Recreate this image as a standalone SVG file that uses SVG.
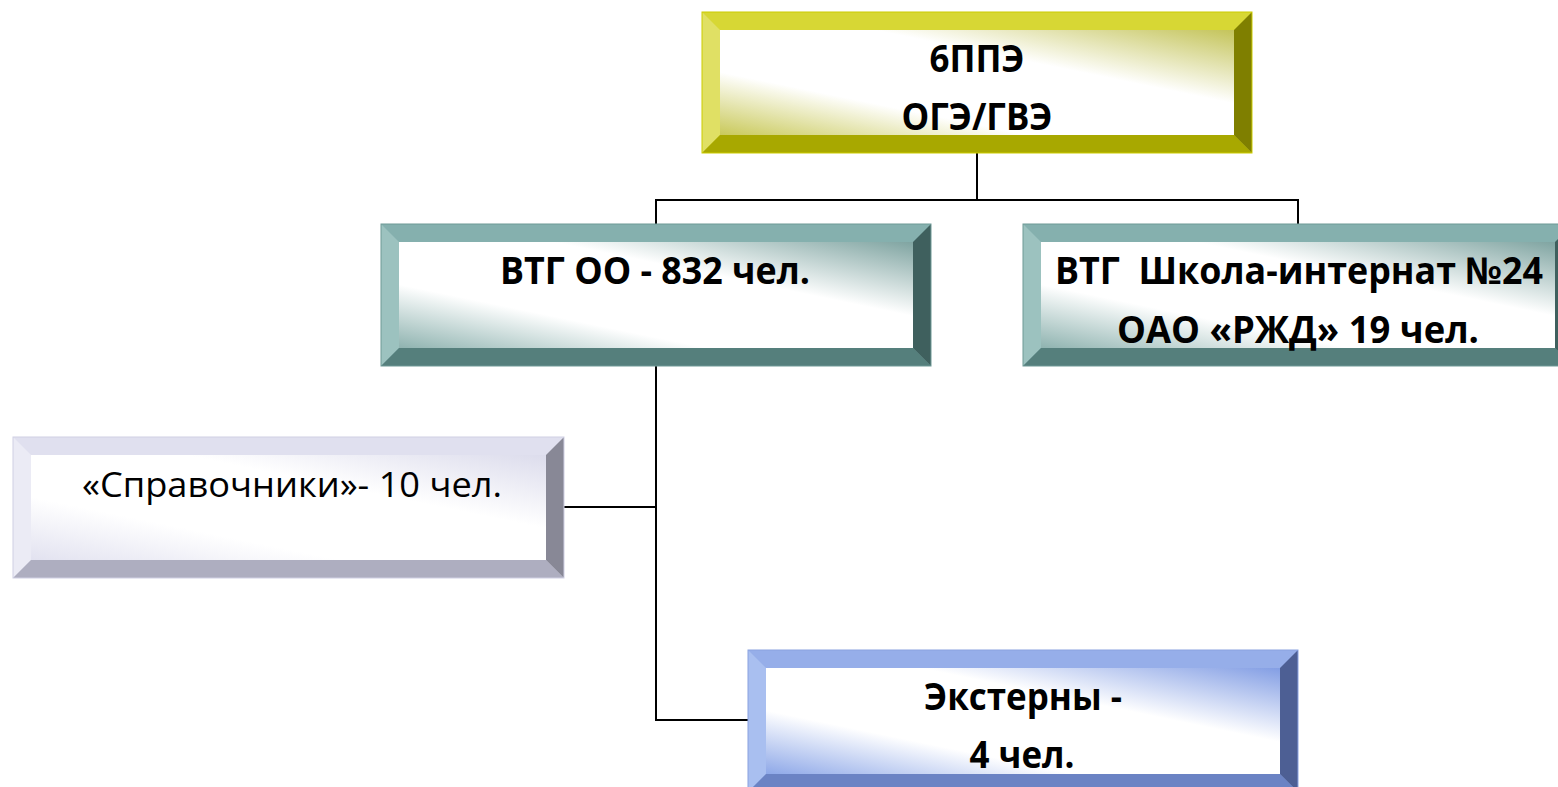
<svg xmlns="http://www.w3.org/2000/svg" width="1558" height="787" viewBox="0 0 1558 787">
<defs>
<linearGradient id="gY" x1="0" y1="1" x2="1" y2="0"><stop offset="0" stop-color="#c9c95a"/><stop offset="0.3" stop-color="#ffffff"/><stop offset="0.65" stop-color="#ffffff"/><stop offset="1" stop-color="#c4c45a"/></linearGradient>
<linearGradient id="gT" x1="0" y1="1" x2="1" y2="0"><stop offset="0" stop-color="#8fb3b0"/><stop offset="0.3" stop-color="#ffffff"/><stop offset="0.65" stop-color="#ffffff"/><stop offset="1" stop-color="#7fa4a1"/></linearGradient>
<linearGradient id="gL" x1="0" y1="1" x2="1" y2="0"><stop offset="0" stop-color="#e2e2f0"/><stop offset="0.3" stop-color="#ffffff"/><stop offset="0.65" stop-color="#ffffff"/><stop offset="1" stop-color="#dcdcec"/></linearGradient>
<linearGradient id="gB" x1="0" y1="1" x2="1" y2="0"><stop offset="0" stop-color="#8ea8e8"/><stop offset="0.3" stop-color="#ffffff"/><stop offset="0.65" stop-color="#ffffff"/><stop offset="1" stop-color="#839ee4"/></linearGradient>
</defs>
<style>
.t{font-family:"Open Sans","Noto Sans","Liberation Sans",sans-serif;font-weight:bold;font-size:37px;fill:#000;text-anchor:middle;white-space:pre}
.r{font-family:"Open Sans","Noto Sans","Liberation Sans",sans-serif;font-size:35px;fill:#000;text-anchor:middle}
.c{fill:none;stroke:#000;stroke-width:2}
</style>
<g id="connectors">
<polyline class="c" points="977,153 977,200"/>
<polyline class="c" points="656,224 656,200 1298,200 1298,224"/>
<polyline class="c" points="656,366 656,720 748,720"/>
<polyline class="c" points="564,507 656,507"/>
</g>
<g id="n1">
<rect x="702" y="12" width="550" height="141" fill="#d7d734"/>
<polygon points="702,12 720,30 720,135 702,153" fill="#e0e064"/>
<polygon points="702,153 720,135 1234,135 1252,153" fill="#a8a800"/>
<polygon points="1252,12 1234,30 1234,135 1252,153" fill="#7f7f00"/>
<rect x="720" y="30" width="514" height="105" fill="url(#gY)"/>
<rect x="702" y="12" width="550" height="141" fill="none" stroke="#cccc00" stroke-width="1"/>
<text class="t" x="977" y="72" textLength="95" lengthAdjust="spacingAndGlyphs">6ППЭ</text>
<text class="t" x="977" y="130" textLength="151" lengthAdjust="spacingAndGlyphs">ОГЭ/ГВЭ</text>
</g>
<g id="n2">
<rect x="381" y="224" width="550" height="142" fill="#85b0ae"/>
<polygon points="381,224 399,242 399,348 381,366" fill="#9cc2bf"/>
<polygon points="381,366 399,348 913,348 931,366" fill="#557f7c"/>
<polygon points="931,224 913,242 913,348 931,366" fill="#3f605e"/>
<rect x="399" y="242" width="514" height="106" fill="url(#gT)"/>
<rect x="381" y="224" width="550" height="142" fill="none" stroke="#6e9996" stroke-width="1"/>
<text class="t" x="655" y="284" textLength="310" lengthAdjust="spacingAndGlyphs">ВТГ ОО - 832 чел.</text>
</g>
<g id="n3">
<rect x="1023" y="224" width="550" height="142" fill="#85b0ae"/>
<polygon points="1023,224 1041,242 1041,348 1023,366" fill="#9cc2bf"/>
<polygon points="1023,366 1041,348 1555,348 1573,366" fill="#557f7c"/>
<polygon points="1573,224 1555,242 1555,348 1573,366" fill="#3f605e"/>
<rect x="1041" y="242" width="514" height="106" fill="url(#gT)"/>
<rect x="1023" y="224" width="550" height="142" fill="none" stroke="#6e9996" stroke-width="1"/>
<text class="t" x="1299" y="284" textLength="488" lengthAdjust="spacingAndGlyphs" xml:space="preserve">ВТГ  Школа-интернат №24</text>
<text class="t" x="1298" y="343" textLength="362" lengthAdjust="spacingAndGlyphs">ОАО «РЖД» 19 чел.</text>
</g>
<g id="n4">
<rect x="13" y="437" width="551" height="141" fill="#e0e0ef"/>
<polygon points="13,437 31,455 31,560 13,578" fill="#ebebf5"/>
<polygon points="13,578 31,560 546,560 564,578" fill="#aeaec0"/>
<polygon points="564,437 546,455 546,560 564,578" fill="#888896"/>
<rect x="31" y="455" width="515" height="105" fill="url(#gL)"/>
<rect x="13" y="437" width="551" height="141" fill="none" stroke="#d0d0e4" stroke-width="1"/>
<text class="r" x="292" y="497" textLength="420" lengthAdjust="spacingAndGlyphs">«Справочники»- 10 чел.</text>
</g>
<g id="n5">
<rect x="748" y="650" width="550" height="142" fill="#96aee9"/>
<polygon points="748,650 766,668 766,774 748,792" fill="#a9bff0"/>
<polygon points="748,792 766,774 1280,774 1298,792" fill="#6b83c4"/>
<polygon points="1298,650 1280,668 1280,774 1298,792" fill="#4d5f94"/>
<rect x="766" y="668" width="514" height="106" fill="url(#gB)"/>
<rect x="748" y="650" width="550" height="142" fill="none" stroke="#8aa2e0" stroke-width="1"/>
<text class="t" x="1023" y="710" textLength="198" lengthAdjust="spacingAndGlyphs">Экстерны -</text>
<text class="t" x="1022" y="768" textLength="105" lengthAdjust="spacingAndGlyphs">4 чел.</text>
</g>
</svg>
